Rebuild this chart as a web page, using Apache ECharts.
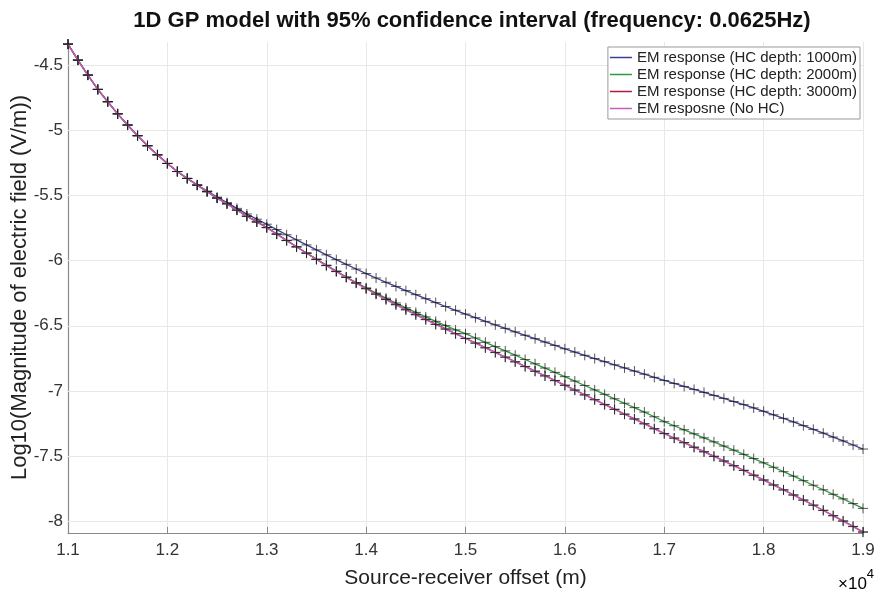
<!DOCTYPE html>
<html>
<head>
<meta charset="utf-8">
<script src="https://cdn.jsdelivr.net/npm/echarts@6/dist/echarts.min.js"></script>
<style>html,body{margin:0;padding:0;background:#fff}#c{width:876px;height:594px}</style>
</head>
<body>
<div id="c"></div>
<script>
// Source-receiver offsets (m)
const offsets = [];
for (let i = 0; i <= 80; i++) offsets.push(11000 + i * 100);

const seriesNames = ['EM response (HC depth: 1000m)', 'EM response (HC depth: 2000m)', 'EM response (HC depth: 3000m)', 'EM resposne (No HC)'];

const hc1000 = [-4.336,-4.459,-4.574,-4.684,-4.779,-4.872,-4.958,-5.040,-5.117,-5.187,
-5.253,-5.315,-5.368,-5.417,-5.465,-5.512,-5.554,-5.598,-5.641,-5.681,
-5.720,-5.761,-5.801,-5.840,-5.879,-5.917,-5.955,-5.992,-6.028,-6.064,
-6.099,-6.133,-6.166,-6.198,-6.230,-6.261,-6.292,-6.322,-6.352,-6.381,
-6.410,-6.438,-6.466,-6.493,-6.520,-6.547,-6.573,-6.599,-6.625,-6.651,
-6.677,-6.702,-6.727,-6.752,-6.776,-6.800,-6.824,-6.848,-6.872,-6.896,
-6.920,-6.943,-6.966,-6.989,-7.012,-7.035,-7.058,-7.082,-7.106,-7.131,
-7.157,-7.184,-7.211,-7.239,-7.267,-7.296,-7.325,-7.355,-7.385,-7.416,-7.447];

const hc2000 = [-4.336,-4.459,-4.574,-4.684,-4.779,-4.872,-4.958,-5.040,-5.117,-5.187,
-5.253,-5.315,-5.368,-5.420,-5.470,-5.519,-5.563,-5.611,-5.658,-5.702,
-5.745,-5.795,-5.844,-5.893,-5.941,-5.988,-6.035,-6.080,-6.125,-6.168,
-6.209,-6.249,-6.288,-6.325,-6.362,-6.397,-6.432,-6.466,-6.499,-6.532,
-6.561,-6.594,-6.627,-6.660,-6.693,-6.726,-6.759,-6.792,-6.825,-6.858,
-6.891,-6.925,-6.959,-6.993,-7.027,-7.061,-7.095,-7.129,-7.163,-7.199,
-7.237,-7.268,-7.299,-7.330,-7.361,-7.392,-7.424,-7.456,-7.488,-7.520,
-7.553,-7.587,-7.621,-7.655,-7.690,-7.725,-7.760,-7.795,-7.830,-7.866,-7.903];

const hc3000 = [-4.336,-4.459,-4.574,-4.684,-4.779,-4.872,-4.958,-5.040,-5.117,-5.187,
-5.253,-5.315,-5.368,-5.420,-5.470,-5.519,-5.563,-5.611,-5.658,-5.702,
-5.745,-5.795,-5.844,-5.893,-5.941,-5.989,-6.036,-6.082,-6.127,-6.171,
-6.214,-6.256,-6.297,-6.337,-6.376,-6.414,-6.451,-6.488,-6.524,-6.560,
-6.596,-6.632,-6.668,-6.704,-6.740,-6.776,-6.812,-6.848,-6.884,-6.920,
-6.956,-6.993,-7.030,-7.067,-7.104,-7.141,-7.178,-7.215,-7.252,-7.290,
-7.327,-7.362,-7.397,-7.432,-7.467,-7.502,-7.538,-7.574,-7.610,-7.647,
-7.684,-7.722,-7.760,-7.799,-7.838,-7.877,-7.917,-7.958,-7.999,-8.041,-8.083];

const noHC = [-4.336,-4.459,-4.574,-4.684,-4.779,-4.872,-4.958,-5.040,-5.117,-5.187,
-5.253,-5.315,-5.368,-5.420,-5.470,-5.519,-5.564,-5.612,-5.659,-5.703,
-5.747,-5.797,-5.846,-5.895,-5.943,-5.991,-6.038,-6.084,-6.129,-6.173,
-6.216,-6.258,-6.299,-6.339,-6.378,-6.416,-6.453,-6.490,-6.526,-6.562,
-6.598,-6.634,-6.670,-6.706,-6.742,-6.778,-6.814,-6.850,-6.886,-6.922,
-6.958,-6.995,-7.032,-7.069,-7.106,-7.143,-7.180,-7.217,-7.254,-7.292,
-7.329,-7.364,-7.399,-7.434,-7.469,-7.504,-7.540,-7.576,-7.612,-7.649,
-7.686,-7.724,-7.762,-7.801,-7.840,-7.879,-7.919,-7.960,-8.001,-8.043,-8.086];

const yTicks = [-8,-7.5,-7,-6.5,-6,-5.5,-5,-4.5];
const yMin = -8.092, yMax = -4.32;

const lineColors = ['#3c3c96', '#2f9a3a', '#b01a3e', '#c25ec2'];
const allSeries = [hc1000, hc2000, hc3000, noHC];

const chart = echarts.init(document.getElementById('c'), null, {renderer: 'canvas'});
const FONT = 'Liberation Sans, Arial, sans-serif';
const plus = 'path://M0,-5 L0,5 M-5,0 L5,0';

const option = {
  animation: false,
  backgroundColor: '#fff',
  title: {
    text: '1D GP model with 95% confidence interval (frequency: 0.0625Hz)',
    left: 467, textAlign: 'center', top: 5,
    textStyle: {fontFamily: FONT, fontSize: 22, fontWeight: 'bold', color: '#111'}
  },
  grid: {left: 68, right: 13, top: 42, bottom: 61, containLabel: false, outerBoundsMode: 'none'},
  legend: {
    orient: 'vertical', right: 16, top: 47,
    backgroundColor: '#fff', borderColor: '#9a9a9a', borderWidth: 1,
    padding: [3, 3, 3, 2], itemGap: 2, itemWidth: 22, itemHeight: 1.5,
    textStyle: {fontFamily: FONT, fontSize: 15, color: '#222', lineHeight: 15},
    data: seriesNames.map((n, i) => ({name: n, icon: 'rect', itemStyle: {color: lineColors[i], borderWidth: 0}}))
  },
  xAxis: {
    type: 'value', min: 11000, max: 19000, interval: 1000,
    name: 'Source-receiver offset (m)', nameLocation: 'middle', nameGap: 35,
    nameTextStyle: {fontFamily: FONT, fontSize: 21, color: '#222'},
    axisLine: {lineStyle: {color: '#8a8a8a', width: 1.2}},
    axisTick: {inside: true, length: 6, lineStyle: {color: '#8a8a8a'}},
    axisLabel: {fontFamily: FONT, fontSize: 17, color: '#333', margin: 9,
      formatter: v => (v / 10000).toFixed(1)},
    splitLine: {show: true, lineStyle: {color: '#e8e8e8', width: 1}}
  },
  yAxis: {
    type: 'value', min: yMin, max: yMax,
    name: 'Log10(Magnitude of electric field (V/m))', nameLocation: 'middle', nameGap: 37,
    nameMoveOverlap: false,
    nameTextStyle: {fontFamily: FONT, fontSize: 22, color: '#222'},
    axisLine: {show: true, lineStyle: {color: '#8a8a8a', width: 1.2}},
    axisTick: {show: true, inside: true, length: 6, customValues: yTicks, lineStyle: {color: '#8a8a8a'}},
    axisLabel: {fontFamily: FONT, fontSize: 17, color: '#333', margin: 5, customValues: yTicks,
      formatter: v => String(v)},
    splitLine: {show: false}
  },
  graphic: [{
    type: 'text', left: 838, top: 568,
    style: {text: '{a|×10}{b|4}', rich: {
      a: {fontFamily: FONT, fontSize: 17, color: '#333', padding: [8, 0, 0, 0]},
      b: {fontFamily: FONT, fontSize: 13, color: '#333', verticalAlign: 'top'}
    }}
  }],
  series: allSeries.map((vals, i) => ({
    name: seriesNames[i], type: 'line',
    data: offsets.map((x, j) => [x, vals[j]]),
    symbol: plus, symbolSize: 10, showSymbol: true,
    itemStyle: {color: 'rgba(0,0,0,0)', borderColor: 'rgba(30,30,30,0.75)', borderWidth: 1},
    lineStyle: {color: lineColors[i], width: 1.3},
    emphasis: {disabled: true},
    z: 2 + i,
    markLine: i === 0 ? {
      silent: true, symbol: 'none', label: {show: false}, z: 1,
      lineStyle: {color: '#e8e8e8', width: 1, type: 'solid'},
      data: yTicks.map(v => ({yAxis: v}))
    } : undefined
  }))
};
chart.setOption(option);
</script>
</body>
</html>
